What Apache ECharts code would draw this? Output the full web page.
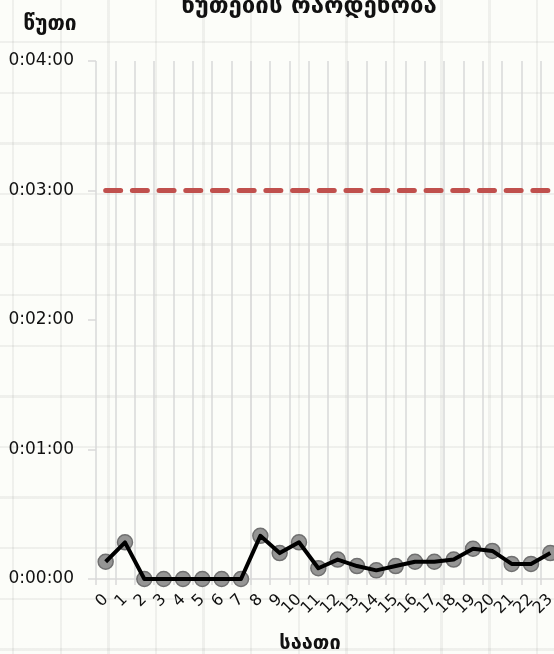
<!DOCTYPE html>
<html>
<head>
<meta charset="utf-8">
<script src="https://cdn.jsdelivr.net/npm/echarts@6/dist/echarts.min.js"></script>
<style>
  html, body { margin: 0; padding: 0; width: 554px; height: 654px; overflow: hidden; }
  body {
    background-color: #fcfdf9;
    background-image:
      repeating-linear-gradient(to right, rgba(0,0,0,0) 0px, rgba(0,0,0,0) 12px, rgba(0,0,0,0.05) 12px, rgba(0,0,0,0.05) 14.5px, rgba(0,0,0,0) 14.5px, rgba(0,0,0,0) 47.6px),
      repeating-linear-gradient(to bottom, rgba(0,0,0,0) 0px, rgba(0,0,0,0) 41px, rgba(0,0,0,0.05) 41px, rgba(0,0,0,0.05) 43.5px, rgba(0,0,0,0) 43.5px, rgba(0,0,0,0) 50.6px);
  }
  #chart { width: 560px; height: 654px; }
</style>
</head>
<body>
<div id="chart"></div>
<script>
// Hours of the day (category axis)
const hours = ['0','1','2','3','4','5','6','7','8','9','10','11','12','13','14','15','16','17','18','19','20','21','22','23'];
// Average wait per hour, in seconds
const waitSeconds = [8, 17, 0, 0, 0, 0, 0, 0, 20, 12, 17, 5, 9, 6, 4, 6, 8, 8, 9, 14, 13, 7, 7, 12];
// Target limit per hour, in seconds (3 minutes)
const targetSeconds = [180, 180, 180, 180, 180, 180, 180, 180, 180, 180, 180, 180, 180, 180, 180, 180, 180, 180, 180, 180, 180, 180, 180, 180];
// Value-axis range and step, in seconds
const yMin = 0, yMax = 240, yStep = 60;

const titleText = 'წუთების რაოდენობა';
const yName = 'წუთი';
const xName = 'საათი';

function fmtTime(sec) {
  const h = Math.floor(sec / 3600);
  const m = Math.floor((sec % 3600) / 60);
  const s = Math.round(sec % 60);
  return h + ':' + String(m).padStart(2, '0') + ':' + String(s).padStart(2, '0');
}

const font = 'DejaVu Sans';
const gridColor = '#d9d9d9';

const chart = echarts.init(document.getElementById('chart'), null, { renderer: 'canvas' });
chart.setOption({
  backgroundColor: 'transparent',
  animation: false,
  grid: { left: 96, right: 0, top: 61, bottom: 75 },
  xAxis: {
    type: 'category',
    data: hours,
    boundaryGap: true,
    axisLine: { show: true, lineStyle: { color: gridColor, width: 1.5 } },
    axisTick: { show: true, length: 6, lineStyle: { color: gridColor, width: 1.5 } },
    splitLine: { show: true, interval: 0, lineStyle: { color: gridColor, width: 1.5 } },
    axisLabel: { interval: 0, rotate: 45, margin: 18, fontFamily: font, fontSize: 16, color: '#111' }
  },
  yAxis: {
    type: 'value',
    min: yMin, max: yMax, interval: yStep,
    axisLine: { show: false },
    axisTick: { show: true, length: 8, lineStyle: { color: gridColor, width: 1.5 } },
    splitLine: { show: false },
    axisLabel: { margin: 22, fontFamily: font, fontSize: 17, color: '#111', formatter: fmtTime }
  },
  graphic: [
    { type: 'text', position: [309, -7],
      style: { text: titleText, font: 'bold 24px "DejaVu Sans"', fill: '#111', align: 'center', lineHeight: 28 } },
    { type: 'text', position: [50, 14],
      style: { text: yName, font: 'bold 21px "DejaVu Sans"', fill: '#111', align: 'center' } },
    { type: 'text', position: [310, 634],
      style: { text: xName, font: 'bold 20px "DejaVu Sans"', fill: '#111', align: 'center' } }
  ],
  series: [
    {
      name: 'target',
      type: 'line',
      data: targetSeconds,
      symbol: 'none',
      silent: true,
      z: 2,
      lineStyle: { color: '#c0504d', width: 5, type: [15, 11.7], cap: 'round' }
    },
    {
      name: 'markers',
      type: 'line',
      data: waitSeconds,
      symbol: 'circle',
      symbolSize: 15,
      z: 3,
      lineStyle: { width: 0, opacity: 0 },
      itemStyle: { color: 'rgba(130,130,130,0.85)', borderColor: '#707070', borderWidth: 1.5 }
    },
    {
      name: 'wait',
      type: 'line',
      data: waitSeconds,
      symbol: 'none',
      z: 4,
      lineStyle: { color: '#000', width: 4, join: 'round' }
    }
  ]
});
</script>
</body>
</html>
